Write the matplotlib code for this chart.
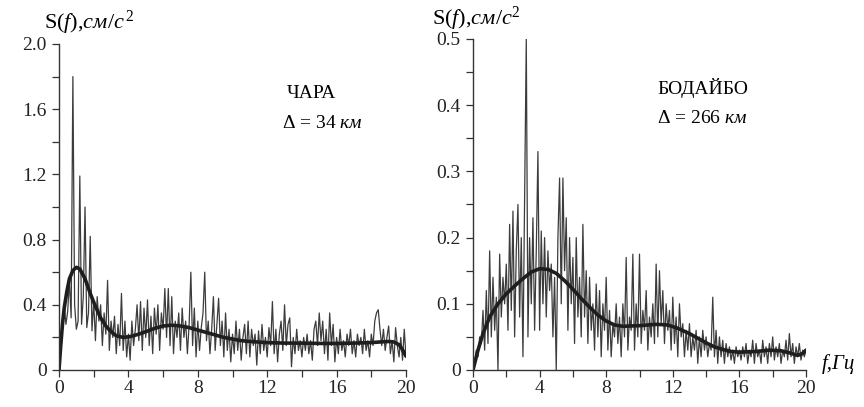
import matplotlib
matplotlib.use("Agg")
import matplotlib.pyplot as plt
from matplotlib.ticker import MultipleLocator, FuncFormatter

plt.rcParams["font.family"] = ["Liberation Serif", "DejaVu Serif"]
plt.rcParams["mathtext.fontset"] = "custom"
plt.rcParams["mathtext.rm"] = "Liberation Serif"
plt.rcParams["mathtext.it"] = "Liberation Serif:italic"

# frequency grid of the spectra (Hz), 0.1 Hz step
freq = [i / 10 for i in range(201)]

# ЧАРА, raw spectrum (cm/s^2)
chara_raw = [
    0.00, 0.12, 0.30, 0.40, 0.28, 0.36, 0.55, 0.32, 1.80, 0.40,
    0.25, 0.30, 1.19, 0.28, 0.45, 1.00, 0.26, 0.35, 0.82, 0.24,
    0.42, 0.18, 0.45, 0.30, 0.40, 0.15, 0.35, 0.22, 0.55, 0.12,
    0.30, 0.20, 0.33, 0.10, 0.28, 0.15, 0.47, 0.12, 0.30, 0.08,
    0.22, 0.06, 0.30, 0.15, 0.25, 0.40, 0.18, 0.42, 0.12, 0.38,
    0.20, 0.43, 0.15, 0.33, 0.10, 0.38, 0.22, 0.40, 0.12, 0.35,
    0.25, 0.50, 0.20, 0.50, 0.15, 0.45, 0.10, 0.30, 0.20, 0.35,
    0.12, 0.38, 0.20, 0.30, 0.10, 0.28, 0.60, 0.15, 0.38, 0.08,
    0.30, 0.12, 0.26, 0.35, 0.60, 0.18, 0.30, 0.10, 0.25, 0.45,
    0.12, 0.28, 0.44, 0.15, 0.30, 0.08, 0.35, 0.12, 0.25, 0.05,
    0.22, 0.10, 0.30, 0.12, 0.25, 0.06, 0.20, 0.28, 0.10, 0.30,
    0.08, 0.25, 0.15, 0.22, 0.03, 0.24, 0.10, 0.28, 0.12, 0.20,
    0.08, 0.26, 0.15, 0.42, 0.10, 0.25, 0.05, 0.22, 0.30, 0.12,
    0.40, 0.15, 0.28, 0.32, 0.02, 0.20, 0.10, 0.25, 0.12, 0.18,
    0.08, 0.20, 0.12, 0.22, 0.10, 0.18, 0.06, 0.25, 0.30, 0.15,
    0.35, 0.18, 0.30, 0.10, 0.25, 0.06, 0.35, 0.15, 0.28, 0.05,
    0.20, 0.10, 0.25, 0.12, 0.18, 0.08, 0.22, 0.15, 0.25, 0.10,
    0.18, 0.08, 0.22, 0.15, 0.20, 0.10, 0.25, 0.12, 0.18, 0.08,
    0.22, 0.15, 0.30, 0.35, 0.37, 0.25, 0.15, 0.25, 0.12, 0.20,
    0.27, 0.10, 0.18, 0.05, 0.26, 0.15, 0.08, 0.20, 0.06, 0.25,
    0.08,
]

# ЧАРА, smoothed spectrum
chara_smooth_f = [0, 0.1, 0.2, 0.3, 0.45, 0.6, 0.8, 1.0, 1.2, 1.5, 1.8, 2.1,
                  2.4, 2.7, 3.0, 3.3, 3.7, 4.1, 4.6, 5.0, 5.5, 6.0, 6.5, 7.0,
                  7.5, 8.0, 8.5, 9.0, 9.5, 10, 10.5, 11, 12, 13, 14, 15, 16,
                  17, 18, 18.5, 19, 19.3, 19.6, 19.8, 20]
chara_smooth = [0.00, 0.15, 0.28, 0.38, 0.48, 0.56, 0.61, 0.63, 0.62, 0.56,
                0.47, 0.39, 0.32, 0.27, 0.235, 0.21, 0.20, 0.205, 0.22, 0.235,
                0.255, 0.27, 0.275, 0.27, 0.26, 0.245, 0.23, 0.215, 0.20, 0.19,
                0.18, 0.175, 0.168, 0.165, 0.165, 0.163, 0.163, 0.165, 0.168,
                0.172, 0.175, 0.172, 0.155, 0.125, 0.085]

# БОДАЙБО, raw spectrum
bodaibo_raw = [
    0.00, 0.01, 0.03, 0.02, 0.05, 0.04, 0.09, 0.03, 0.12, 0.04,
    0.18, 0.05, 0.14, 0.06, 0.11, 0.00, 0.175, 0.08, 0.14, 0.10,
    0.16, 0.06, 0.22, 0.09, 0.24, 0.05, 0.18, 0.25, 0.08, 0.20,
    0.02, 0.26, 0.50, 0.05, 0.20, 0.10, 0.23, 0.06, 0.18, 0.33,
    0.06, 0.21, 0.10, 0.20, 0.08, 0.18, 0.12, 0.16, 0.05, 0.14,
    0.00, 0.20, 0.29, 0.10, 0.29, 0.15, 0.23, 0.06, 0.20, 0.10,
    0.17, 0.04, 0.20, 0.08, 0.14, 0.05, 0.22, 0.08, 0.15, 0.04,
    0.14, 0.06, 0.10, 0.03, 0.13, 0.05, 0.12, 0.02, 0.10, 0.06,
    0.14, 0.03, 0.09, 0.02, 0.07, 0.05, 0.10, 0.04, 0.08, 0.02,
    0.10, 0.05, 0.17, 0.03, 0.08, 0.06, 0.175, 0.03, 0.10, 0.05,
    0.175, 0.04, 0.09, 0.06, 0.12, 0.03, 0.08, 0.05, 0.10, 0.04,
    0.16, 0.05, 0.15, 0.07, 0.12, 0.04, 0.10, 0.06, 0.09, 0.03,
    0.11, 0.04, 0.08, 0.02, 0.10, 0.05, 0.07, 0.02, 0.06, 0.03,
    0.07, 0.02, 0.05, 0.03, 0.06, 0.01, 0.05, 0.02, 0.06, 0.03,
    0.05, 0.02, 0.04, 0.03, 0.11, 0.02, 0.06, 0.01, 0.05, 0.02,
    0.045, 0.01, 0.04, 0.02, 0.035, 0.015, 0.03, 0.01, 0.035, 0.02,
    0.03, 0.015, 0.035, 0.02, 0.04, 0.01, 0.03, 0.02, 0.045, 0.01,
    0.04, 0.02, 0.03, 0.01, 0.045, 0.02, 0.035, 0.01, 0.04, 0.02,
    0.05, 0.015, 0.035, 0.02, 0.04, 0.01, 0.03, 0.02, 0.045, 0.015,
    0.055, 0.02, 0.04, 0.01, 0.035, 0.02, 0.04, 0.015, 0.03, 0.02,
    0.03,
]

# БОДАЙБО, smoothed spectrum
bodaibo_smooth_f = [0, 0.3, 0.6, 1.0, 1.5, 2.0, 2.5, 3.0, 3.5, 4.0, 4.5, 5.0,
                    5.5, 6.0, 6.5, 7.0, 7.5, 8.0, 8.5, 9.0, 10.0, 11.0, 11.7,
                    12.3, 13.0, 13.5, 14.0, 14.5, 15.0, 15.5, 16.0, 17.0, 17.8,
                    18.5, 19.0, 19.5, 19.8, 20.0]
bodaibo_smooth = [0.000, 0.03, 0.055, 0.08, 0.10, 0.115, 0.127, 0.138, 0.148,
                  0.153, 0.152, 0.146, 0.135, 0.122, 0.108, 0.095, 0.083, 0.074,
                  0.068, 0.066, 0.067, 0.069, 0.068, 0.063, 0.055, 0.048, 0.041,
                  0.035, 0.031, 0.028, 0.027, 0.028, 0.030, 0.029, 0.026, 0.022,
                  0.025, 0.030]

W, H = 864, 407
fig = plt.figure(figsize=(W / 100, H / 100), dpi=100)


def px_axes(left, right, top, bottom):
    return fig.add_axes([left / W, (H - bottom) / H, (right - left) / W, (bottom - top) / H])


def style_axes(ax, ymax, ymajor, yminor):
    ax.set_xlim(0, 20)
    ax.set_ylim(0, ymax)
    for s in ("top", "right"):
        ax.spines[s].set_visible(False)
    for s in ("left", "bottom"):
        ax.spines[s].set_linewidth(1.0)
        ax.spines[s].set_color("#333333")
    ax.xaxis.set_major_locator(MultipleLocator(4))
    ax.xaxis.set_minor_locator(MultipleLocator(2))
    ax.yaxis.set_major_locator(MultipleLocator(ymajor))
    ax.yaxis.set_minor_locator(MultipleLocator(yminor))
    ax.yaxis.set_major_formatter(FuncFormatter(lambda v, p: "0" if abs(v) < 1e-9 else f"{v:.1f}"))
    ax.tick_params(which="both", direction="out", length=5, width=0.9,
                   color="#333333", labelsize=14, labelcolor="#222222")
    ax.tick_params(axis="y", pad=4)
    ax.tick_params(axis="x", pad=2)
    ax.patch.set_alpha(0)


raw_kw = dict(color="#3c3c3c", lw=0.9)
smooth_kw = dict(color="#1e1e1e", lw=2.6, solid_capstyle="round")

# left panel: ЧАРА
ax1 = px_axes(59, 406, 44, 370)
ax1.plot(freq, chara_raw, **raw_kw)
ax1.plot(chara_smooth_f, chara_smooth, **smooth_kw)
style_axes(ax1, 2.0, 0.4, 0.2)
fig.text(44 / W, 1 - 23 / H, r"S$(f)$,$см/с^{\,2}$", fontsize=16, va="center", ha="left")
fig.text(287 / W, 1 - 93 / H, "ЧАРА", fontsize=14, va="center", ha="left")
fig.text(282 / W, 1 - 123 / H, r"Δ = 34 $км$", fontsize=14, va="center", ha="left")

# right panel: БОДАЙБО
ax2 = px_axes(473, 806, 39, 370)
ax2.plot(freq, bodaibo_raw, **raw_kw)
ax2.plot(bodaibo_smooth_f, bodaibo_smooth, **smooth_kw)
style_axes(ax2, 0.5, 0.1, 0.05)
fig.text(432 / W, 1 - 19 / H, r"S$(f)$,$см/с^{2}$", fontsize=16, va="center", ha="left")
fig.text(657 / W, 1 - 88 / H, "БОДАЙБО", fontsize=14, va="center", ha="left")
fig.text(657 / W, 1 - 119 / H, r"Δ = 266 $км$", fontsize=14, va="center", ha="left")
fig.text(822 / W, 1 - 364 / H, "f,Гц", fontsize=15, style="italic", va="center", ha="left")

fig.savefig("out.png", dpi=100)
